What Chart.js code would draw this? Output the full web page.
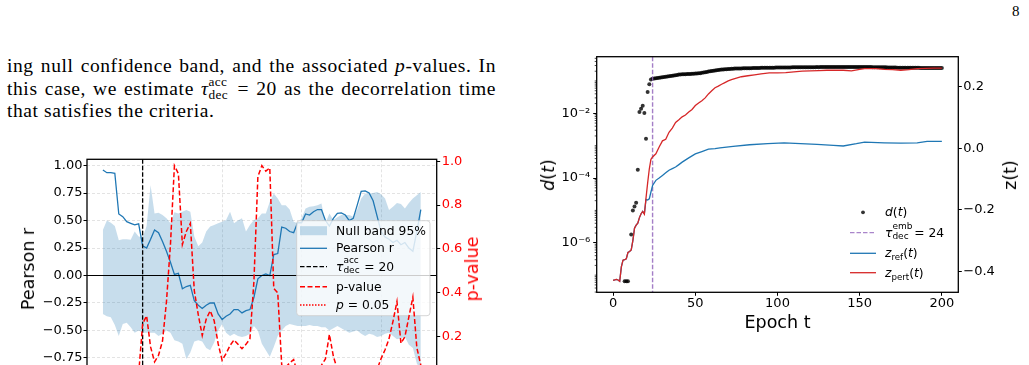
<!DOCTYPE html>
<html><head><meta charset="utf-8">
<script src="https://cdn.jsdelivr.net/npm/chart.js@4.4.0/dist/chart.umd.min.js"></script>
<style>
html,body{margin:0;padding:0;background:#fff;width:1029px;height:365px;overflow:hidden;}
body{position:relative;}
canvas{position:absolute;}
.t{position:absolute;font-family:'DejaVu Sans';color:#000;white-space:nowrap;}
.rot{transform:translate(-50%,-50%) rotate(-90deg);}
.ctr{transform:translate(-50%,-50%);}
.para{position:absolute;left:7px;top:55px;width:489px;font-family:'Liberation Serif';font-size:19.5px;line-height:22.7px;letter-spacing:0.6px;color:#000;}
.jl{text-align:justify;text-align-last:justify;}
.st{display:inline-block;position:relative;height:1px;}
.st .a,.st .b{position:absolute;left:0;line-height:1;}
.leg{position:absolute;font-family:'DejaVu Sans';font-size:12.3px;line-height:14.3px;white-space:nowrap;color:#000;z-index:5;}
.sb{position:relative;top:3px;font-size:70%;}
svg{position:absolute;left:0;top:0;z-index:4;}
</style></head><body>

<div class="para">
<div class="jl">ing null confidence band, and the associated <i>p</i>-values. In</div>
<div class="jl">this case, we estimate <i>τ</i><span class="st" style="width:22px;font-size:13.3px;letter-spacing:0.3px;"><span class="a" style="bottom:6.5px;">acc</span><span class="b" style="top:-6.1px;">dec</span></span> = 20 as the decorrelation time</div>
<div>that satisfies the criteria.</div>
</div>
<div class="t" style="left:1012px;top:4px;font-family:'Liberation Serif';font-size:15px;line-height:15px;">8</div>

<canvas id="c1" width="480" height="270" style="left:0;top:150px;"></canvas>
<canvas id="c2" width="509" height="320" style="left:520px;top:40px;"></canvas>

<div class="t rot" style="left:28.3px;top:268.8px;font-size:17.5px;">Pearson r</div>
<div class="t rot" style="left:472px;top:268.8px;font-size:17.5px;color:#ff0000;">p-value</div>
<div class="t rot" style="left:547.5px;top:174.5px;font-size:17.5px;"><i>d</i>(<i>t</i>)</div>
<div class="t rot" style="left:1010px;top:174.5px;font-size:17.5px;">z(t)</div>
<div class="t ctr" style="left:777.5px;top:321.7px;font-size:17.5px;">Epoch t</div>

<svg width="1029" height="365">
  <rect x="300" y="226.2" width="27" height="9" fill="rgba(31,119,180,0.25)"/>
  <line x1="300" y1="248.3" x2="327" y2="248.3" stroke="#1f77b4" stroke-width="1.3"/>
  <line x1="300" y1="266.7" x2="327" y2="266.7" stroke="#000" stroke-width="1.3" stroke-dasharray="4.5 2"/>
  <line x1="300" y1="286.7" x2="327" y2="286.7" stroke="#ff0000" stroke-width="1.5" stroke-dasharray="5 2.5"/>
  <line x1="300" y1="305" x2="327" y2="305" stroke="#ff0000" stroke-width="1.5" stroke-dasharray="1.5 1.5"/>
  <circle cx="863" cy="212.3" r="1.9" fill="rgba(0,0,0,0.8)"/>
  <line x1="850" y1="232.7" x2="876" y2="232.7" stroke="#9467bd" stroke-opacity="0.8" stroke-width="1.3" stroke-dasharray="4.5 2"/>
  <line x1="850" y1="253.3" x2="876" y2="253.3" stroke="#1f77b4" stroke-width="1.3"/>
  <line x1="850" y1="272.7" x2="876" y2="272.7" stroke="#d62728" stroke-width="1.3"/>
</svg>

<div class="leg" style="left:336px;top:223.5px;">Null band 95%</div>
<div class="leg" style="left:336px;top:241.1px;">Pearson r</div>
<div class="leg" style="left:336px;top:259.5px;"><i>τ</i><span class="st" style="width:17px;font-size:9px;"><span class="a" style="bottom:5.6px;">acc</span><span class="b" style="top:-3.6px;">dec</span></span> = 20</div>
<div class="leg" style="left:336px;top:279.5px;">p-value</div>
<div class="leg" style="left:336px;top:297.8px;"><i>p</i> = 0.05</div>

<div class="leg" style="left:885px;top:205.1px;"><i>d</i>(<i>t</i>)</div>
<div class="leg" style="left:885px;top:225.5px;"><i>τ</i><span class="st" style="width:18px;font-size:9px;"><span class="a" style="bottom:5.6px;">emb</span><span class="b" style="top:-3.6px;">dec</span></span> = 24</div>
<div class="leg" style="left:885px;top:246.1px;"><i>z</i><span class="sb">ref</span>(<i>t</i>)</div>
<div class="leg" style="left:885px;top:265.5px;"><i>z</i><span class="sb">pert</span>(<i>t</i>)</div>

<script>
// ---------------- Left panel data ----------------
const LAGS = [10,11,12,13,14,15,16,17,18,19,20,21,22,23,24,25,26,27,28,29,30,31,32,33,34,35,36,37,38,39,40,41,42,43,44,45,46,47,48,49,50,51,52,53,54,55,56,57,58,59,60,61,62,63,64,65,66,67,68,69,70,71,72,73,74,75,76,77,78,79,80,81,82,83,84,85,86,87,88,89,90];
const PEARSON_R = [0.96,0.935,0.935,0.93,0.56,0.535,0.49,0.475,0.46,0.47,0.27,0.25,0.33,0.415,0.39,0.31,0.22,0.12,0.01,0.02,-0.12,-0.10,-0.09,-0.23,-0.27,-0.30,-0.27,-0.25,-0.25,-0.35,-0.40,-0.37,-0.35,-0.31,-0.31,-0.34,-0.32,-0.31,-0.20,-0.03,0.0,0.015,0.0,0.19,0.20,0.44,0.43,0.40,0.39,0.48,0.48,0.56,0.55,0.58,0.60,0.60,0.50,0.45,0.52,0.565,0.57,0.55,0.50,0.52,0.64,0.765,0.77,0.75,0.68,0.54,0.40,0.35,0.33,0.30,0.32,0.28,0.30,0.25,0.22,0.40,0.60];
const NULL_HI = [0.415,0.50,0.48,0.45,0.32,0.33,0.33,0.325,0.40,0.355,0.345,0.45,0.82,0.565,0.57,0.55,0.52,0.475,0.575,0.565,0.58,0.595,0.58,0.355,0.265,0.30,0.40,0.445,0.46,0.475,0.49,0.505,0.58,0.475,0.50,0.52,0.40,0.46,0.505,0.52,0.565,0.565,0.67,0.745,0.70,0.64,0.64,0.60,0.49,0.475,0.52,0.61,0.625,0.63,0.64,0.655,0.475,0.565,0.505,0.53,0.55,0.55,0.55,0.535,0.60,0.70,0.745,0.745,0.75,0.76,0.74,0.70,0.595,0.625,0.66,0.65,0.61,0.66,0.70,0.73,0.76];
const NULL_LO = [-0.35,-0.37,-0.38,-0.45,-0.55,-0.44,-0.43,-0.47,-0.52,-0.50,-0.52,-0.52,-0.52,-0.52,-0.55,-0.53,-0.50,-0.52,-0.59,-0.60,-0.62,-0.76,-0.70,-0.60,-0.59,-0.60,-0.66,-0.68,-0.61,-0.50,-0.44,-0.52,-0.55,-0.53,-0.55,-0.56,-0.55,-0.53,-0.46,-0.50,-0.62,-0.68,-0.74,-0.65,-0.55,-0.50,-0.46,-0.44,-0.45,-0.46,-0.46,-0.46,-0.45,-0.46,-0.46,-0.47,-0.47,-0.50,-0.48,-0.46,-0.48,-0.50,-0.52,-0.51,-0.50,-0.53,-0.55,-0.53,-0.54,-0.56,-0.55,-0.53,-0.52,-0.55,-0.58,-0.57,-0.56,-0.63,-0.66,-0.80,-0.86];
const P_VALUE = [0.001,0.001,0.001,0.001,0.01,0.01,0.02,0.02,0.02,0.03,0.258,0.295,0.153,0.085,0.115,0.18,0.36,0.62,0.98,0.943,0.62,0.68,0.717,0.41,0.30,0.205,0.28,0.318,0.273,0.168,0.092,0.123,0.16,0.185,0.165,0.145,0.165,0.19,0.45,0.93,0.98,0.955,0.97,0.42,0.40,0.07,0.06,0.08,0.095,0.03,0.02,0.03,0.02,0.03,0.05,0.07,0.098,0.21,0.11,0.05,0.04,0.06,0.04,0.05,0.02,0.01,0.01,0.01,0.02,0.05,0.10,0.14,0.19,0.27,0.36,0.17,0.20,0.29,0.38,0.15,0.07];
const TAU_ACC = 20;
const ZERO_REF = 0;
const P_THRESHOLD = 0.05;
const LAG_TICKS = [20,40,60,80];
const R_TICKS = [-0.75,-0.5,-0.25,0,0.25,0.5,0.75,1.0];
const R_LABELS = ['−0.75','−0.50','−0.25','0.00','0.25','0.50','0.75','1.00'];
const P_TICKS = [0,0.2,0.4,0.6,0.8,1.0];
const P_LABELS = ['0.0','0.2','0.4','0.6','0.8','1.0'];

// ---------------- Right panel data ----------------
const EPOCHS = [0,1,2,3,4,5,6,7,8,9,10,11,12,13,14,15,16,17,18,19,20,21,22,23,24,25,26,27,28,29,30,31,32,33,34,35,36,37,38,39,40,41,42,43,44,45,46,47,48,49,50,51,52,53,54,55,56,57,58,59,60,61,62,63,64,65,66,67,68,69,70,71,72,73,74,75,76,77,78,79,80,81,82,83,84,85,86,87,88,89,90,91,92,93,94,95,96,97,98,99,100,101,102,103,104,105,106,107,108,109,110,111,112,113,114,115,116,117,118,119,120,121,122,123,124,125,126,127,128,129,130,131,132,133,134,135,136,137,138,139,140,141,142,143,144,145,146,147,148,149,150,151,152,153,154,155,156,157,158,159,160,161,162,163,164,165,166,167,168,169,170,171,172,173,174,175,176,177,178,179,180,181,182,183,184,185,186,187,188,189,190,191,192,193,194,195,196,197,198,199,200];
const D_T = [null,null,null,null,null,null,null,6.5e-8,6.5e-8,6.5e-8,
 null,1.8e-6,1.0e-5,1.33e-5,1.74e-5,1.82e-4,1.1e-2,1.38e-2,1.7e-2,1.02e-2,
 1.63e-3,4.6e-2,7.9e-2,0.110,
 0.117,0.120,0.121,0.123,0.126,0.127,0.131,0.133,0.135,0.138,
 0.140,0.142,0.146,0.148,0.151,0.153,0.158,0.157,0.160,0.161,
 0.160,0.163,0.165,0.164,0.167,0.168,0.170,0.171,0.173,0.174,
 0.178,0.182,0.186,0.190,0.195,0.200,0.203,0.207,0.211,0.215,
 0.219,0.224,0.226,0.228,0.230,0.232,0.234,0.236,0.238,0.240,
 0.241,0.242,0.243,0.244,0.244,0.245,0.246,0.247,0.247,0.248,
 0.249,0.250,0.251,0.252,0.252,0.253,0.254,0.255,0.255,0.256,
 0.257,0.257,0.258,0.257,0.258,0.259,0.259,0.260,0.259,0.260,
 0.261,0.261,0.262,0.261,0.262,0.263,0.263,0.264,0.263,0.264,
 0.265,0.265,0.266,0.265,0.266,0.266,0.267,0.266,0.267,0.267,
 0.268,0.267,0.268,0.268,0.269,0.268,0.269,0.269,0.268,0.269,
 0.269,0.270,0.269,0.270,0.269,0.270,0.269,0.270,0.270,0.269,
 0.270,0.269,0.270,0.269,0.270,0.269,0.269,0.270,0.269,0.269,
 0.268,0.269,0.268,0.268,0.267,0.267,0.266,0.266,0.265,0.265,
 0.264,0.263,0.263,0.262,0.262,0.261,0.260,0.260,0.259,0.258,
 0.258,0.257,0.257,0.256,0.256,0.256,0.255,0.255,0.255,0.254,
 0.254,0.254,0.254,0.253,0.253,0.253,0.253,0.252,0.252,0.252,
 0.252,0.252,0.251,0.251,0.251,0.251,0.251];
const ZPERT_EPOCHS = [0,1,2,3,4,5,6,7,8,9,10,11,12,13,14,15,16,17,18,19,20,21,22,23,24,26,28,30,32,34,36,38,40,42,44,46,48,50,52,54,56,58,60,62,64,66,68,70,72,75,78,82,86,90,95,100,105,110,115,120,125,130,135,140,145,150,153,160,165,170,175,180,185,190,195,200];
const ZPERT = [6.9e-8,7.1e-8,7.4e-8,7.1e-8,6.5e-8,1.8e-7,2.9e-7,3.0e-7,3.2e-7,5.0e-7,5.4e-7,6.0e-7,1.17e-6,2.8e-6,3.5e-6,4.0e-6,6.0e-6,7.9e-6,9.3e-6,7.6e-6,2.4e-5,7.1e-5,1.9e-4,3.8e-4,4.5e-4,
 5.6e-4,9.1e-4,1.41e-3,1.58e-3,2.6e-3,3.5e-3,5.2e-3,6.3e-3,7.8e-3,8.9e-3,1.10e-2,1.32e-2,1.74e-2,2.09e-2,2.45e-2,3.0e-2,3.98e-2,5.0e-2,6.2e-2,6.9e-2,7.9e-2,8.9e-2,0.100,0.110,
 0.123,0.135,0.145,0.155,0.166,0.178,
 0.178,0.182,0.191,0.200,0.204,0.209,0.214,0.214,0.214,0.204,0.229,
 0.240,
 0.240,0.229,0.224,0.214,0.224,0.240,0.245,0.251,0.251];
const ZREF_EPOCHS = [0,1,2,3,4,5,6,7,8,9,10,11,12,13,14,15,16,17,18,19,20,21,22,23,24,26,28,30,32,34,36,38,40,42,46,50,54,58,62,65,73,83,94,104,114,124,134,140,148,153,165,175,185,191,200];
const ZREF = [6.9e-8,7.1e-8,7.4e-8,7.1e-8,6.5e-8,1.8e-7,2.9e-7,3.0e-7,3.2e-7,5.0e-7,5.4e-7,6.0e-7,1.17e-6,2.8e-6,3.5e-6,4.0e-6,6.0e-6,7.9e-6,9.3e-6,8.0e-6,
 2.19e-5,2.09e-5,2.29e-5,3.7e-5,5.9e-5,8.5e-5,1.0e-4,1.20e-4,1.45e-4,1.74e-4,1.95e-4,2.19e-4,2.6e-4,3.1e-4,4.2e-4,5.6e-4,6.6e-4,7.8e-4,8.1e-4,
 8.5e-4,9.5e-4,1.07e-3,1.15e-3,1.23e-3,1.15e-3,1.10e-3,1.02e-3,9.8e-4,1.15e-3,1.29e-3,1.23e-3,1.20e-3,1.23e-3,1.35e-3,1.35e-3];
const TAU_EMB = 24;
const EPOCH_TICKS = [0,50,100,150,200];
const LOG_TICKS = [1e-6,1e-4,1e-2];
const LOG_LABELS = ['10⁻⁶','10⁻⁴','10⁻²'];
const Z_TICKS = [-0.4,-0.2,0,0.2];
const Z_LABELS = ['−0.4','−0.2','0.0','0.2'];

Chart.defaults.font.family = 'DejaVu Sans';
Chart.defaults.font.size = 13;
Chart.defaults.color = '#000';

const xy = (xs, ys) => xs.map((x, i) => ({x: x, y: ys[i]}));
const fixTicks = (vals) => (s) => { s.ticks = vals.map(v => ({value: v})); };
const lab = (vals, labels) => (v) => { const i = vals.indexOf(v); return i < 0 ? '' : labels[i]; };

function roundRect(ctx, x, y, w, h, r) {
  ctx.beginPath();
  ctx.moveTo(x + r, y); ctx.lineTo(x + w - r, y); ctx.quadraticCurveTo(x + w, y, x + w, y + r);
  ctx.lineTo(x + w, y + h - r); ctx.quadraticCurveTo(x + w, y + h, x + w - r, y + h);
  ctx.lineTo(x + r, y + h); ctx.quadraticCurveTo(x, y + h, x, y + h - r);
  ctx.lineTo(x, y + r); ctx.quadraticCurveTo(x, y, x + r, y); ctx.closePath();
}

const leftDecor = {
  id: 'leftDecor',
  afterDatasetDraw(chart, args) {
    const {ctx, chartArea: ca, scales} = chart;
    if (args.index === 1) {
      ctx.save();
      const y0 = scales.y.getPixelForValue(ZERO_REF);
      ctx.strokeStyle = '#000'; ctx.lineWidth = 1.1;
      ctx.beginPath(); ctx.moveTo(ca.left, y0); ctx.lineTo(ca.right, y0); ctx.stroke();
      const xt = scales.x.getPixelForValue(TAU_ACC);
      ctx.setLineDash([4.5, 2]); ctx.lineWidth = 1.3;
      ctx.beginPath(); ctx.moveTo(xt, ca.top); ctx.lineTo(xt, ca.bottom); ctx.stroke();
      ctx.setLineDash([]);
      roundRect(ctx, 296.7, 70.7, 133.3, 95, 3);
      ctx.fillStyle = 'rgba(255,255,255,0.8)'; ctx.fill();
      ctx.strokeStyle = 'rgba(204,204,204,0.8)'; ctx.lineWidth = 1; ctx.stroke();
      ctx.restore();
    }
    if (args.index === 0) {
      ctx.save();
      const yp = scales.y2.getPixelForValue(P_THRESHOLD);
      ctx.strokeStyle = '#ff0000'; ctx.lineWidth = 1.5; ctx.setLineDash([1.5, 1.5]);
      ctx.beginPath(); ctx.moveTo(ca.left, yp); ctx.lineTo(ca.right, yp); ctx.stroke();
      ctx.restore();
    }
  },
  afterDatasetsDraw(chart) {
    const {ctx, chartArea: ca} = chart;
    ctx.save(); ctx.strokeStyle = '#000'; ctx.lineWidth = 1.3;
    ctx.strokeRect(ca.left, ca.top, ca.right - ca.left, ca.bottom - ca.top);
    ctx.restore();
  }
};

new Chart(document.getElementById('c1'), {
  type: 'line',
  data: {
    datasets: [
      {label: 'p-value', data: xy(LAGS, P_VALUE), yAxisID: 'y2', borderColor: '#ff0000', borderWidth: 1.5, borderDash: [5, 2.5], pointRadius: 0, fill: false, tension: 0},
      {label: 'Pearson r', data: xy(LAGS, PEARSON_R), yAxisID: 'y', borderColor: '#1f77b4', borderWidth: 1.3, pointRadius: 0, fill: false, tension: 0},
      {label: 'Null band 95% (upper)', data: xy(LAGS, NULL_HI), yAxisID: 'y', borderWidth: 0, borderColor: 'rgba(0,0,0,0)', pointRadius: 0, fill: '+1', backgroundColor: 'rgba(31,119,180,0.25)', tension: 0},
      {label: 'Null band 95% (lower)', data: xy(LAGS, NULL_LO), yAxisID: 'y', borderWidth: 0, borderColor: 'rgba(0,0,0,0)', pointRadius: 0, fill: false, tension: 0}
    ]
  },
  options: {
    responsive: false, animation: false, events: [],
    layout: {padding: {top: 7, left: 0, right: 0, bottom: 0}},
    plugins: {legend: {display: false}, tooltip: {enabled: false}},
    scales: {
      x: {type: 'linear', min: 6, max: 94, afterBuildTicks: fixTicks(LAG_TICKS),
          ticks: {autoSkip: false, padding: 1, maxRotation: 0, font: {size: 13}},
          grid: {color: 'rgba(0,0,0,0.14)', lineWidth: 0.8, tickColor: '#000', tickLength: 3.5, tickWidth: 1},
          border: {display: false, dash: [3, 2]},
          afterFit: (s) => { s.height = 39.5; }},
      y: {type: 'linear', position: 'left', min: -0.955, max: 1.057, afterBuildTicks: fixTicks(R_TICKS),
          ticks: {autoSkip: false, padding: 1, callback: lab(R_TICKS, R_LABELS), font: {size: 13}},
          grid: {color: 'rgba(0,0,0,0.14)', lineWidth: 0.8, tickColor: '#000', tickLength: 3.5, tickWidth: 1},
          border: {display: false, dash: [3, 2]},
          afterFit: (s) => { s.width = 87; }},
      y2: {type: 'linear', position: 'right', min: 0, max: 1.009, afterBuildTicks: fixTicks(P_TICKS),
          ticks: {autoSkip: false, padding: 1.5, color: '#ff0000', callback: lab(P_TICKS, P_LABELS), font: {size: 13}},
          grid: {drawOnChartArea: false, tickColor: '#000', tickLength: 3.5, tickWidth: 1},
          border: {display: false},
          afterFit: (s) => { s.width = 43.3; }}
    }
  },
  plugins: [leftDecor]
});

const rightDecor = {
  id: 'rightDecor',
  afterDatasetDraw(chart, args) {
    if (args.index !== 2) return;
    const {ctx, chartArea: ca, scales} = chart;
    const xt = scales.x.getPixelForValue(TAU_EMB);
    ctx.save();
    ctx.strokeStyle = 'rgba(148,103,189,0.85)'; ctx.lineWidth = 1.4; ctx.setLineDash([4.5, 2]);
    ctx.beginPath(); ctx.moveTo(xt, ca.top); ctx.lineTo(xt, ca.bottom); ctx.stroke();
    ctx.restore();
  },
  afterDraw(chart) {
    const {ctx, chartArea: ca, scales} = chart;
    const s = scales.y;
    ctx.save(); ctx.strokeStyle = '#000'; ctx.lineWidth = 0.7;
    for (let e = -8; e <= 0; e++) {
      for (let m = 1; m <= 9; m++) {
        const v = m * Math.pow(10, e);
        if (v < s.min || v > s.max) continue;
        if (LOG_TICKS.some(t => Math.abs(t - v) / v < 1e-9)) continue;
        const y = s.getPixelForValue(v);
        ctx.beginPath(); ctx.moveTo(ca.left, y); ctx.lineTo(ca.left - 2, y); ctx.stroke();
      }
    }
    ctx.lineWidth = 1.3;
    ctx.strokeRect(ca.left, ca.top, ca.right - ca.left, ca.bottom - ca.top);
    ctx.restore();
  }
};

new Chart(document.getElementById('c2'), {
  type: 'line',
  data: {
    datasets: [
      {label: 'z_pert(t)', data: xy(ZPERT_EPOCHS, ZPERT), yAxisID: 'y', borderColor: '#d62728', borderWidth: 1.3, pointRadius: 0, fill: false, tension: 0},
      {label: 'z_ref(t)', data: xy(ZREF_EPOCHS, ZREF), yAxisID: 'y', borderColor: '#1f77b4', borderWidth: 1.3, pointRadius: 0, fill: false, tension: 0},
      {label: 'd(t)', data: xy(EPOCHS, D_T), yAxisID: 'y', showLine: false, pointRadius: 2, pointBorderWidth: 0, pointBackgroundColor: 'rgba(0,0,0,0.8)', borderColor: 'rgba(0,0,0,0)'}
    ]
  },
  options: {
    responsive: false, animation: false, events: [],
    layout: {padding: {top: 16.7, left: 0, right: 0, bottom: 0}},
    plugins: {legend: {display: false}, tooltip: {enabled: false}},
    scales: {
      x: {type: 'linear', min: -10, max: 210, afterBuildTicks: fixTicks(EPOCH_TICKS),
          ticks: {autoSkip: false, padding: 0, maxRotation: 0, font: {size: 13}},
          grid: {drawOnChartArea: false, tickColor: '#000', tickLength: 3.5, tickWidth: 1},
          border: {display: false},
          afterFit: (s) => { s.height = 67.7; }},
      y: {type: 'logarithmic', position: 'left', min: 2.95e-8, max: 0.562, afterBuildTicks: fixTicks(LOG_TICKS),
          ticks: {autoSkip: false, padding: 3, callback: lab(LOG_TICKS, LOG_LABELS), font: {size: 13}},
          grid: {drawOnChartArea: false, tickColor: '#000', tickLength: 3.5, tickWidth: 1},
          border: {display: false},
          afterFit: (s) => { s.width = 76.7; }},
      y2: {type: 'linear', position: 'right', min: -0.467, max: 0.297, afterBuildTicks: fixTicks(Z_TICKS),
          ticks: {autoSkip: false, padding: 1.5, callback: lab(Z_TICKS, Z_LABELS), font: {size: 13}},
          grid: {drawOnChartArea: false, tickColor: '#000', tickLength: 3.5, tickWidth: 1},
          border: {display: false},
          afterFit: (s) => { s.width = 70.7; }}
    }
  },
  plugins: [rightDecor]
});
</script>
</body></html>
